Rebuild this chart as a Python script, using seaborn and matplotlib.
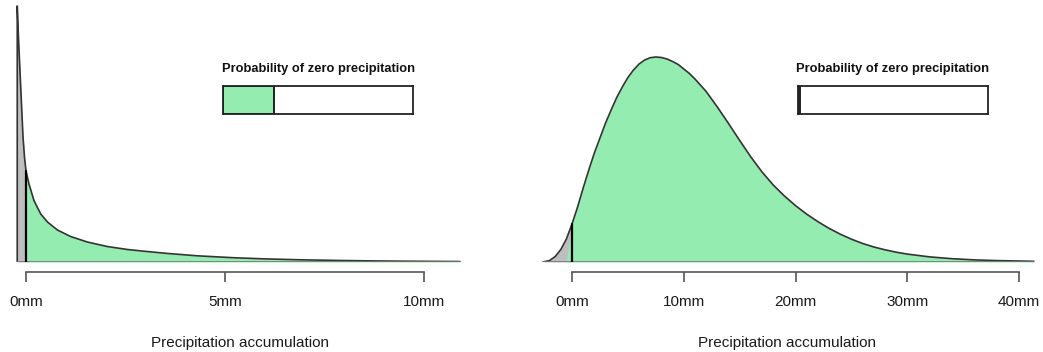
import numpy as np
import matplotlib
matplotlib.use("Agg")
import matplotlib.pyplot as plt
import seaborn as sns

# ─── data ────────────────────────────────────────────────────────────────────
# left panel: light rain forecast (density, relative height)
x_left = [-0.22, -0.22, -0.19, -0.15, -0.11, -0.075, -0.038, 0.0, 0.075, 0.2,
          0.37, 0.54, 0.79, 1.12, 1.54, 2.04, 2.55, 2.96, 3.54, 4.3, 5.2, 6.0,
          6.9, 7.9, 8.9, 9.9, 10.9]
dens_left = [0, 256, 225, 190, 155, 125, 105, 91, 78, 61.5,
             48, 40, 32, 25.5, 20, 15.5, 12.5, 10.8, 8.6, 6.2, 4.3, 3.1,
             2.2, 1.5, 1.0, 0.7, 0.45]
ticks_left = [0, 5, 10]
p_zero_left = 0.27

# right panel: heavy rain forecast
x_right = [-2.6, -2.0, -1.5, -1.0, -0.5, 0.0, 0.5, 1.0, 1.5, 2.0, 2.5, 3.0,
           3.5, 4.0, 4.5, 5.0, 5.5, 6.0, 6.5, 7.0, 7.5, 8.0, 8.5, 9.0, 9.5,
           10.0, 10.5, 11.0, 12.0, 13.0, 14.0, 15.0, 16.0, 17.0, 18.0, 19.0,
           20.0, 21.0, 22.0, 23.0, 24.0, 25.0, 26.0, 27.0, 28.0, 29.0, 30.0,
           32.0, 34.0, 36.0, 38.0, 41.3]
dens_right = [0, 1.5, 5.5, 12.5, 23, 38, 55, 74, 92, 109, 124, 139,
              152, 164.5, 175, 184.5, 192, 198, 202, 204.3, 205, 204.5, 203,
              200.5, 197.5, 193, 188.5, 183, 170.5, 155, 138.5, 121.5, 105,
              90, 77, 66, 56.3, 47.8, 40.3, 33.6, 27.8, 22.8, 18.5, 15, 12.2,
              9.8, 7.9, 5.1, 3.3, 2.1, 1.4, 0.7]
ticks_right = [0, 10, 20, 30, 40]
p_zero_right = 0.01

GREEN = "#94ECB0"
GREY = "#BEBEBE"
LINE = "#333333"

sns.set_theme(style="white")
plt.rcParams["font.family"] = ["Liberation Sans", "DejaVu Sans"]

fig = plt.figure(figsize=(10.43, 3.52), dpi=100)
W, H = 1043, 352


def panel(rect, xlim, xs, ys, ticks, p_zero, box_rect):
    ax = fig.add_axes([rect[0] / W, (H - rect[3]) / H,
                       (rect[2] - rect[0]) / W, (rect[3] - rect[1]) / H])
    xs = np.array(xs)
    ys = np.array(ys)
    ax.fill_between(xs, 0, ys, where=xs <= 0, color=GREY, lw=0, interpolate=True)
    ax.fill_between(xs, 0, ys, where=xs >= 0, color=GREEN, lw=0, interpolate=True)
    sns.lineplot(x=xs, y=ys, ax=ax, color=LINE, lw=1.2, sort=False,
                 estimator=None)
    ax.plot([xs[0], xs[-1]], [0, 0], color="#777777", lw=1.2)
    y0 = ys[np.where(xs == 0)[0][0]]
    ax.plot([0, 0], [0, y0], color="black", lw=1.6)

    ax.set_xlim(*xlim)
    ax.set_ylim(0, rect[3] - rect[1])
    for s in ["top", "right", "left"]:
        ax.spines[s].set_visible(False)
    ax.spines["bottom"].set_position(("outward", 7.2))
    ax.spines["bottom"].set_bounds(ticks[0], ticks[-1])
    ax.spines["bottom"].set_color("#555555")
    ax.spines["bottom"].set_linewidth(1.2)
    ax.set_yticks([])
    ax.set_xticks(ticks)
    ax.set_xticklabels([f"{t}mm" for t in ticks])
    ax.tick_params(axis="x", direction="out", length=7.2, width=1.2,
                   color="#555555", pad=9, labelsize=11, labelcolor="#1a1a1a",
                   bottom=True)
    ax.set_xlabel("Precipitation accumulation", fontsize=11, labelpad=20,
                  color="#1a1a1a")
    ax.patch.set_alpha(0)

    # inset probability bar
    bx = fig.add_axes([box_rect[0] / W, (H - box_rect[3]) / H,
                       (box_rect[2] - box_rect[0]) / W,
                       (box_rect[3] - box_rect[1]) / H])
    bx.barh([0], [p_zero], height=1.0, color=GREEN, edgecolor="#111111",
            lw=1.3, align="center")
    bx.set_xlim(0, 1)
    bx.set_ylim(-0.5, 0.5)
    bx.set_xticks([])
    bx.set_yticks([])
    for s in bx.spines.values():
        s.set_visible(True)
        s.set_color("#222222")
        s.set_linewidth(1.3)
    bx.set_title("Probability of zero precipitation", fontsize=9.3,
                 fontweight="bold", pad=10, color="#111111")
    return ax


panel((10, 0, 470, 262), (-0.402, 11.156), x_left, dens_left, ticks_left,
      p_zero_left, (223, 86, 413, 114))
panel((535, 0, 1040, 262), (-3.31, 41.86), x_right, dens_right, ticks_right,
      p_zero_right, (798, 86, 988, 114))

fig.savefig("out.png", dpi=100, facecolor="white")
